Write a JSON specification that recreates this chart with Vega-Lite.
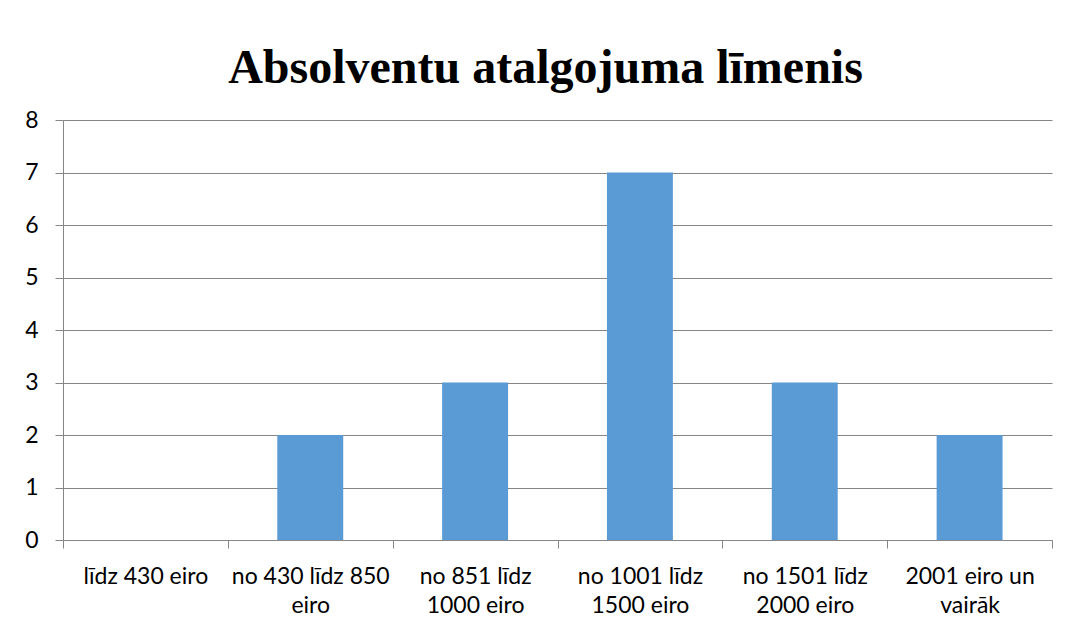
{
  "$schema": "https://vega.github.io/schema/vega-lite/v6.json",
  "width": 989,
  "height": 420,
  "autosize": {"type": "none"},
  "padding": {"left": 63, "top": 120, "right": 15, "bottom": 92},
  "background": "white",
  "title": {
    "text": "Absolventu atalgojuma līmenis",
    "font": "Liberation Serif",
    "fontSize": 48,
    "fontWeight": "bold",
    "color": "#000000",
    "baseline": "alphabetic",
    "offset": -22,
    "dx": -12
  },
  "data": {
    "values": [
      {"kategorija": "līdz 430 eiro", "skaits": 0},
      {"kategorija": "no 430 līdz 850 eiro", "skaits": 2},
      {"kategorija": "no 851 līdz 1000 eiro", "skaits": 3},
      {"kategorija": "no 1001 līdz 1500 eiro", "skaits": 7},
      {"kategorija": "no 1501 līdz 2000 eiro", "skaits": 3},
      {"kategorija": "2001 eiro un vairāk", "skaits": 2}
    ]
  },
  "mark": {"type": "bar", "color": "#5B9BD5", "width": {"band": 0.4}},
  "encoding": {
    "x": {
      "field": "kategorija",
      "type": "nominal",
      "sort": null,
      "scale": {"paddingInner": 0, "paddingOuter": 0},
      "axis": {
        "title": null,
        "labelAngle": 0,
        "labelFont": "Lato",
        "labelFontSize": 23,
        "labelColor": "#000000",
        "labelLineHeight": 29,
        "labelPadding": 17,
        "labelLimit": 0,
        "labelOverlap": false,
        "tickBand": "extent",
        "tickColor": "#868686",
        "tickSize": 8,
        "domainColor": "#868686",
        "grid": false,
        "labelExpr": "({'no 430 līdz 850 eiro': ['no 430 līdz 850', 'eiro'], 'no 851 līdz 1000 eiro': ['no 851 līdz', '1000 eiro'], 'no 1001 līdz 1500 eiro': ['no 1001 līdz', '1500 eiro'], 'no 1501 līdz 2000 eiro': ['no 1501 līdz', '2000 eiro'], '2001 eiro un vairāk': ['2001 eiro un', 'vairāk']})[datum.label] || datum.label"
      }
    },
    "y": {
      "field": "skaits",
      "type": "quantitative",
      "scale": {"domain": [0, 8]},
      "axis": {
        "title": null,
        "values": [0, 1, 2, 3, 4, 5, 6, 7, 8],
        "labelOverlap": false,
        "labelFont": "Lato",
        "labelFontSize": 23,
        "labelColor": "#000000",
        "labelPadding": 17,
        "tickColor": "#868686",
        "tickSize": 8,
        "domainColor": "#868686",
        "gridColor": "#868686",
        "gridOpacity": 1
      }
    }
  },
  "config": {
    "view": {"stroke": null}
  }
}
